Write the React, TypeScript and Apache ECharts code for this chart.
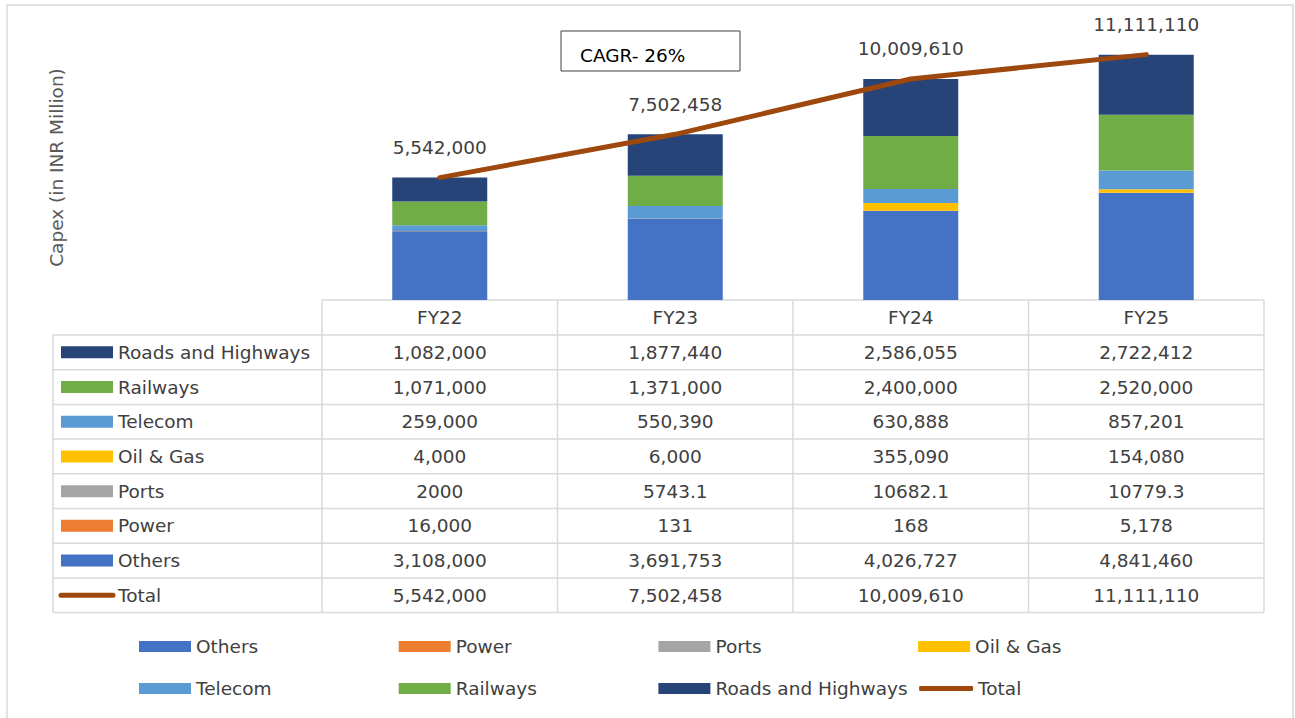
import React, { useEffect, useRef } from "react";
import * as echarts from "echarts";

const categories = ["FY22", "FY23", "FY24", "FY25"];
const others = [3108000, 3691753, 4026727, 4841460];
const power = [16000, 131, 168, 5178];
const ports = [2000, 5743.1, 10682.1, 10779.3];
const oilGas = [4000, 6000, 355090, 154080];
const telecom = [259000, 550390, 630888, 857201];
const railways = [1071000, 1371000, 2400000, 2520000];
const roads = [1082000, 1877440, 2586055, 2722412];
const totals = [5542000, 7502458, 10009610, 11111110];
const cagrText = "CAGR- 26%";
const yTitle = "Capex (in INR Million)";

const FONT = "DejaVu Sans";
const FS = 18.5;
const TXT = "#404040";
const GRID_C = "#D9D9D9";

const stackSeries = [
  { name: "Others", data: others, color: "#4472C4" },
  { name: "Power", data: power, color: "#ED7D31" },
  { name: "Ports", data: ports, color: "#A5A5A5" },
  { name: "Oil & Gas", data: oilGas, color: "#FFC000" },
  { name: "Telecom", data: telecom, color: "#5B9BD5" },
  { name: "Railways", data: railways, color: "#70AD47" },
  { name: "Roads and Highways", data: roads, color: "#264478" },
];
const TOTAL_COLOR = "#9E480E";

const fmt = (name: string, v: number) =>
  name === "Ports" ? String(v) : v.toLocaleString("en-US");

// table row order (top to bottom)
const tableRows = [
  "Roads and Highways",
  "Railways",
  "Telecom",
  "Oil & Gas",
  "Ports",
  "Power",
  "Others",
  "Total",
];

// bottom legend layout
const legendRows = [
  ["Others", "Power", "Ports", "Oil & Gas"],
  ["Telecom", "Railways", "Roads and Highways", "Total"],
];

export default function App() {
  const ref = useRef<HTMLDivElement>(null);
  useEffect(() => {
    if (!ref.current) return;
    const chart = echarts.init(ref.current, undefined, { renderer: "svg" });

    const legends: any[] = [];
    legendRows.forEach((row, ri) => {
      row.forEach((name, ci) => {
        const isTotal = name === "Total";
        legends.push({
          data: [{ name, icon: isTotal ? "roundRect" : "rect" }],
          left: 139 + ci * 259.7 + (isTotal ? 1 : 0),
          top: ri === 0 ? 637 : 679,
          padding: 0,
          itemWidth: isTotal ? 54 : 52,
          itemHeight: isTotal ? 5 : 11,
          itemGap: 0,
          selectedMode: false,
          textStyle: { fontFamily: FONT, fontSize: FS, color: TXT, padding: [0, 0, 0, 0] },
        });
      });
    });

    const option: any = {
      animation: false,
      textStyle: { fontFamily: FONT },
      grid: { left: 322, right: 31, top: 35, bottom: 418 },
      legend: legends,
      xAxis: {
        type: "category",
        data: categories,
        axisLine: { show: true, lineStyle: { color: GRID_C, width: 1.5 } },
        axisTick: { show: false },
        axisLabel: { fontFamily: FONT, fontSize: FS, color: TXT, margin: 8 },
      },
      yAxis: {
        type: "value",
        min: 0,
        max: 12000000,
        axisLine: { show: false },
        axisTick: { show: false },
        axisLabel: { show: false },
        splitLine: { show: false },
        name: yTitle,
        nameLocation: "middle",
        nameRotate: 90,
        nameGap: 256,
        nameTextStyle: { fontFamily: FONT, fontSize: FS, color: "#595959" },
      },
      series: [
        ...stackSeries.map((s) => ({
          type: "bar",
          name: s.name,
          stack: "capex",
          data: s.data,
          barWidth: 95,
          itemStyle: { color: s.color },
        })),
        {
          type: "line",
          name: "Total",
          data: totals,
          showSymbol: true,
          symbol: "circle",
          symbolSize: 1,
          lineStyle: { color: TOTAL_COLOR, width: 5, cap: "round", join: "round" },
          itemStyle: { color: TOTAL_COLOR },
          z: 5,
          label: {
            show: true,
            position: "top",
            distance: 20,
            fontFamily: FONT,
            fontSize: FS,
            color: TXT,
            formatter: (p: any) => totals[p.dataIndex].toLocaleString("en-US"),
          },
        },
      ],
    };
    chart.setOption(option);

    const xs = categories.map((c) => chart.convertToPixel({ xAxisIndex: 0 }, c) as number);
    const half = (xs[1] - xs[0]) / 2;
    const colEdges = [xs[0] - half, ...xs.map((x) => x + half)];
    const tableLeft = 53;
    const headerTop = 301;
    const rowTop = 335;
    const rowH = 34.7;
    const tableBottom = rowTop + rowH * tableRows.length;

    const g: any[] = [];
    g.push({
      type: "rect",
      shape: { x: 7, y: 5, width: 1286, height: 730 },
      style: { fill: "none", stroke: GRID_C, lineWidth: 1.5 },
      silent: true,
    });
    g.push({
      type: "rect",
      shape: { x: 561, y: 31, width: 179, height: 40 },
      style: { fill: "#fff", stroke: "#404040", lineWidth: 1 },
      z: 10,
    });
    g.push({
      type: "text",
      x: 580,
      y: 55,
      z: 11,
      style: {
        text: cagrText,
        fill: "#000",
        fontFamily: FONT,
        fontSize: FS,
        align: "left",
        verticalAlign: "middle",
      },
    });
    colEdges.forEach((x) => {
      g.push({
        type: "line",
        shape: { x1: x, y1: headerTop, x2: x, y2: tableBottom },
        style: { stroke: GRID_C, lineWidth: 1.5 },
      });
    });
    g.push({
      type: "line",
      shape: { x1: tableLeft, y1: rowTop, x2: tableLeft, y2: tableBottom },
      style: { stroke: GRID_C, lineWidth: 1.5 },
    });
    for (let i = 0; i <= tableRows.length; i++) {
      const y = rowTop + i * rowH;
      g.push({
        type: "line",
        shape: { x1: tableLeft, y1: y, x2: colEdges[colEdges.length - 1], y2: y },
        style: { stroke: GRID_C, lineWidth: 1.5 },
      });
    }
    tableRows.forEach((name, ri) => {
      const cy = rowTop + (ri + 0.5) * rowH;
      const s = stackSeries.find((ss) => ss.name === name);
      if (s) {
        g.push({
          type: "rect",
          shape: { x: 61, y: cy - 6, width: 52, height: 12 },
          style: { fill: s.color },
        });
      } else {
        g.push({
          type: "line",
          shape: { x1: 61, y1: cy, x2: 113, y2: cy },
          style: { stroke: TOTAL_COLOR, lineWidth: 5, lineCap: "round" },
        });
      }
      g.push({
        type: "text",
        x: 118,
        y: cy,
        style: {
          text: name,
          fill: TXT,
          fontFamily: FONT,
          fontSize: FS,
          align: "left",
          verticalAlign: "middle",
        },
      });
      const vals = s ? s.data : totals;
      vals.forEach((v, ci) => {
        g.push({
          type: "text",
          x: xs[ci],
          y: cy,
          style: {
            text: fmt(name, v),
            fill: TXT,
            fontFamily: FONT,
            fontSize: FS,
            align: "center",
            verticalAlign: "middle",
          },
        });
      });
    });

    chart.setOption({ graphic: g });
    return () => chart.dispose();
  }, []);
  return (
    <div
      ref={ref}
      style={{ position: "fixed", left: 0, top: 0, width: 1295, height: 718, background: "#fff" }}
    />
  );
}
